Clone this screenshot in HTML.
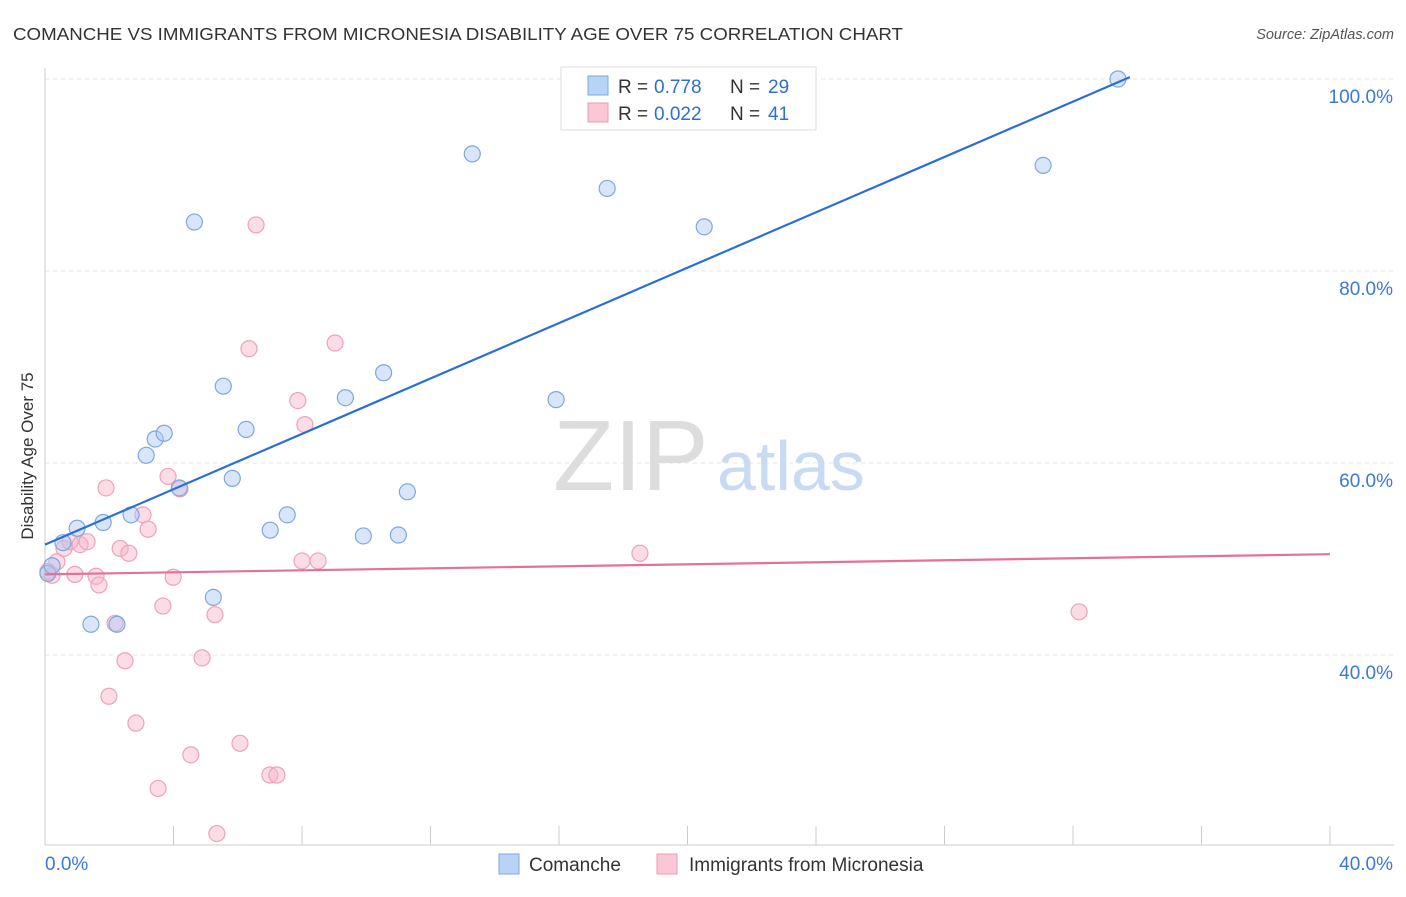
<!DOCTYPE html>
<html><head><meta charset="utf-8"><style>
body{margin:0;background:#fff;font-family:"Liberation Sans",sans-serif}
svg text{font-family:"Liberation Sans",sans-serif}
</style></head><body>
<svg id="chart" width="1406" height="892" xmlns="http://www.w3.org/2000/svg">
<text x="13" y="40" font-size="17.5" fill="#333" textLength="890" lengthAdjust="spacingAndGlyphs">COMANCHE VS IMMIGRANTS FROM MICRONESIA DISABILITY AGE OVER 75 CORRELATION CHART</text>
<text x="1394" y="39" font-size="14.5" fill="#555" font-style="italic" text-anchor="end">Source: ZipAtlas.com</text>
<text transform="translate(33,456) rotate(-90)" font-size="17" fill="#333" text-anchor="middle">Disability Age Over 75</text>
<g id="grid"></g>
<text x="553" y="490" font-size="100" fill="#ddd" font-family="Liberation Serif">ZIP</text>
<text x="717" y="490" font-size="70" fill="#c9daf3">atlas</text>
<g id="marks"></g>
<g>
<rect x="561" y="67" width="255" height="63" fill="#fff" stroke="#ddd"/>
<rect x="588" y="76" width="20" height="19" fill="#b9d3f6" stroke="#7da6e6"/>
<rect x="588" y="103" width="20" height="19" fill="#fbc6d6" stroke="#ec9ab4"/>
<text x="618" y="93" font-size="19" fill="#333">R =</text>
<text x="654" y="93" font-size="19" fill="#2d6fd3">0.778</text>
<text x="730" y="93" font-size="19" fill="#333">N =</text>
<text x="768" y="93" font-size="19" fill="#2d6fd3">29</text>
<text x="618" y="120" font-size="19" fill="#333">R =</text>
<text x="654" y="120" font-size="19" fill="#2d6fd3">0.022</text>
<text x="730" y="120" font-size="19" fill="#333">N =</text>
<text x="768" y="120" font-size="19" fill="#2d6fd3">41</text>
</g>
<g>
<rect x="499" y="854" width="20" height="20" fill="#b9d3f6" stroke="#7da6e6"/>
<text x="529" y="871" font-size="19" fill="#333">Comanche</text>
<rect x="657" y="854" width="20" height="20" fill="#fbc6d6" stroke="#ec9ab4"/>
<text x="689" y="871" font-size="19" fill="#333">Immigrants from Micronesia</text>
</g>
</svg>
<script>
const yTicks=[40,60,80,100];
const yTickLabels=["40.0%","60.0%","80.0%","100.0%"];
const xTicks=[0,4,8,12,16,20,24,28,32,36,40];
const blueX=[0.09,0.22,0.56,1.0,1.43,1.81,2.24,2.68,3.15,3.43,3.71,4.18,4.65,5.24,5.55,5.83,6.26,7.01,7.54,9.35,9.91,10.54,11.0,11.28,13.3,15.91,17.5,20.52,31.07,33.4];
const blueY=[48.5,49.3,51.7,53.2,43.2,53.8,43.2,54.6,60.8,62.5,63.1,57.4,85.1,46.0,68.0,58.4,63.5,53.0,54.6,66.8,52.4,69.4,52.5,57.0,92.2,66.6,88.6,84.6,91.0,100.0];
const pinkX=[0.09,0.22,0.37,0.59,0.78,0.93,1.09,1.31,1.59,1.68,1.9,1.99,2.18,2.34,2.49,2.61,2.83,3.05,3.21,3.52,3.67,3.83,3.99,4.2,4.54,4.89,5.29,5.35,6.07,6.35,6.57,7.0,7.22,7.87,8.0,8.09,8.5,9.03,18.52,32.19];
const pinkY=[48.7,48.3,49.7,51.1,51.8,48.4,51.5,51.8,48.2,47.3,57.4,35.7,43.3,51.1,39.4,50.6,32.9,54.6,53.1,26.1,45.1,58.6,48.1,57.3,29.6,39.7,44.2,21.4,30.8,71.9,84.8,27.5,27.5,66.5,49.8,64.0,49.8,72.5,50.6,44.5];
const blueLine=[51.5,100.2], blueLineX=[0,33.77];
const pinkLine=[48.4,50.5], pinkLineX=[0,40];
const X=v=>45+v/40*1285, Y=v=>79+(100-v)*9.6;
const NS="http://www.w3.org/2000/svg";
const grid=document.getElementById('grid'), marks=document.getElementById('marks');
function mk(tag,attrs,parent){const e=document.createElementNS(NS,tag);for(const k in attrs)e.setAttribute(k,attrs[k]);parent.appendChild(e);return e;}
yTicks.forEach((t,i)=>{
 const l=mk('line',{x1:45,x2:1394,y1:Y(t),y2:Y(t),stroke:'#e4e4e4','stroke-dasharray':'4,4'},grid);
 
 
 const tx=mk('text',{x:1393,y:Y(t)+24,'font-size':19,fill:'#3b78d8','text-anchor':'end'},grid);
 tx.textContent=yTickLabels[i];
 
 
});
const ax=mk('line',{x1:45,x2:1394,y1:845,y2:845,stroke:'#ccc'},grid);


const ay=mk('line',{x1:45,x2:45,y1:68,y2:845,stroke:'#ccc'},grid);


xTicks.forEach(t=>{
 const l=mk('line',{x1:X(t),x2:X(t),y1:826,y2:845,stroke:'#ccc'},grid);
 
 
});
[[0,'0.0%','start',45],[40,'40.0%','end',1393]].forEach(a=>{
 const tx=mk('text',{x:a[3],y:870,'font-size':19,fill:'#3b78d8','text-anchor':a[2]},grid);
 tx.textContent=a[1];
 
 
});
pinkX.forEach((x,i)=>{
 const c=mk('circle',{cx:X(x),cy:Y(pinkY[i]),r:8,fill:'rgba(248,180,200,0.45)',stroke:'#eda2ba','stroke-width':1.2},marks);
 
 
});
blueX.forEach((x,i)=>{
 const c=mk('circle',{cx:X(x),cy:Y(blueY[i]),r:8,fill:'rgba(170,200,245,0.45)',stroke:'#7fa6e0','stroke-width':1.2},marks);
 
 
});
const bl=mk('line',{x1:X(blueLineX[0]),y1:Y(blueLine[0]),x2:X(blueLineX[1]),y2:Y(blueLine[1]),stroke:'#2a6fd6','stroke-width':2.2},marks);


const pl=mk('line',{x1:X(pinkLineX[0]),y1:Y(pinkLine[0]),x2:X(pinkLineX[1]),y2:Y(pinkLine[1]),stroke:'#e5709a','stroke-width':2.2},marks);


</script>
</body></html>
